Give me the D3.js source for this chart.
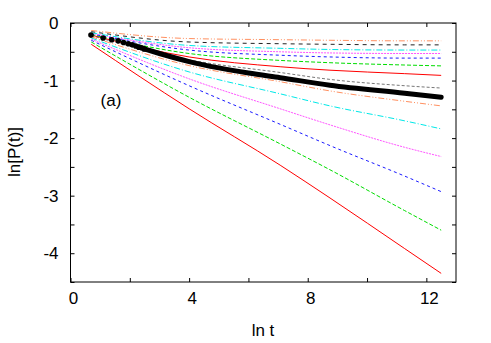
<!DOCTYPE html>
<html><head><meta charset="utf-8">
<script src="https://cdn.jsdelivr.net/npm/d3@7"></script>
<style>
html,body{margin:0;padding:0;background:#fff;}
svg text{font-family:"Liberation Sans",Arial,sans-serif;fill:#000;}
</style>
</head><body>
<svg id="chart" width="491" height="343"></svg>
<script>
// ---- data ----
const xTickValues = [0, 2, 4, 6, 8, 10, 12];
const xTickLabels = ["0", "", "4", "", "8", "", "12"];
const yTickValues = [0, -0.5, -1, -1.5, -2, -2.5, -3, -3.5, -4, -4.5];
const yTickLabels = ["0", "", "-1", "", "-2", "", "-3", "", "-4", ""];

const lnT = [0.7, 4, 7.07, 8.75, 11.27, 12.5];
const orangeUpper  = [-0.13, -0.27, -0.29, -0.30, -0.31, -0.31];
const blackUpper   = [-0.15, -0.33, -0.36, -0.37, -0.38, -0.38];
const cyanUpper    = [-0.17, -0.39, -0.44, -0.46, -0.47, -0.47];
const magentaUpper = [-0.18, -0.43, -0.50, -0.52, -0.53, -0.53];
const blueUpper    = [-0.19, -0.47, -0.56, -0.59, -0.61, -0.61];
const greenUpper   = [-0.20, -0.53, -0.65, -0.69, -0.73, -0.745];
const redUpper     = [-0.21, -0.59, -0.76, -0.82, -0.88, -0.91];
const greyLower    = [-0.22, -0.64, -0.86, -0.98, -1.09, -1.13];
const orangeLower  = [-0.24, -0.74, -1.02, -1.18, -1.36, -1.44];
const cyanLower    = [-0.26, -0.85, -1.23, -1.44, -1.70, -1.84];
const magentaLower = [-0.28, -0.97, -1.49, -1.77, -2.16, -2.32];
const blueLower    = [-0.30, -1.09, -1.76, -2.13, -2.66, -2.93];
const greenLower   = [-0.33, -1.29, -2.10, -2.55, -3.26, -3.60];
const redLower     = [-0.37, -1.49, -2.47, -3.04, -3.92, -4.35];

const blackDotLnT = [0.69, 1.10, 1.39, 1.61, 1.79, 1.95, 2.08, 2.20, 2.30, 2.40, 2.48];
const blackDotVal = [-0.21, -0.26, -0.29, -0.31, -0.34, -0.36, -0.38, -0.40, -0.42, -0.43, -0.45];
const blackLineLnT = [2.48, 3, 4, 5, 6, 7.07, 8.75, 11.27, 12.5];
const blackLineVal = [-0.45, -0.53, -0.67, -0.78, -0.87, -0.95, -1.08, -1.22, -1.29];

const series = [
  {v: redLower,     c: "#ff0000", d: null},
  {v: greenLower,   c: "#00dd00", d: "4,2"},
  {v: blueLower,    c: "#1a1aff", d: "3,3"},
  {v: magentaLower, c: "#ff55ff", d: "2,1"},
  {v: cyanLower,    c: "#00e8e8", d: "6,2,1,2"},
  {v: orangeLower,  c: "#ff9060", d: "6,2,1,2,1,2"},
  {v: greyLower,    c: "#777777", d: "3,2"},
  {v: redUpper,     c: "#ff0000", d: null},
  {v: greenUpper,   c: "#00dd00", d: "4,2"},
  {v: blueUpper,    c: "#1a1aff", d: "3,3"},
  {v: magentaUpper, c: "#ff55ff", d: "2,1"},
  {v: cyanUpper,    c: "#00e8e8", d: "6,2,1,2"},
  {v: blackUpper,   c: "#222222", d: "4,4"},
  {v: orangeUpper,  c: "#ff9060", d: "6,2,1,2,1,2"}
];

// ---- layout ----
const L = 70.5, R = 456, T = 23, B = 282;
const svg = d3.select("#chart");
const x = d3.scaleLinear().domain([0, 13]).range([L, R]);
const y = d3.scaleLinear().domain([-4.5, 0]).range([B, T]);

// lines
const line = d3.line().x(d => x(d[0])).y(d => y(d[1])).curve(d3.curveMonotoneX);
const g = svg.append("g");
series.forEach(s => {
  g.append("path")
    .attr("d", line(lnT.map((t, i) => [t, s.v[i]])))
    .attr("fill", "none")
    .attr("stroke", s.c)
    .attr("stroke-width", 1)
    .attr("stroke-dasharray", s.d);
});

// thick black data
g.append("path")
  .attr("d", line(blackLineLnT.map((t, i) => [t, blackLineVal[i]])))
  .attr("fill", "none").attr("stroke", "#000").attr("stroke-width", 5)
  .attr("stroke-linecap", "round");
g.selectAll("circle.dot").data(blackDotLnT.map((t, i) => [t, blackDotVal[i]]))
  .enter().append("circle")
  .attr("cx", d => x(d[0])).attr("cy", d => y(d[1])).attr("r", 2.8).attr("fill", "#000");

// axes with inward ticks (mirrored)
const tickLen = 4;
const xb = svg.append("g").attr("transform", `translate(0,${B})`)
  .call(d3.axisBottom(x).tickValues(xTickValues).tickSize(-tickLen).tickPadding(10)
        .tickFormat((d, i) => xTickLabels[i]));
const xt = svg.append("g").attr("transform", `translate(0,${T})`)
  .call(d3.axisTop(x).tickValues(xTickValues).tickSize(-tickLen).tickFormat(""));
const yl = svg.append("g").attr("transform", `translate(${L},0)`)
  .call(d3.axisLeft(y).tickValues(yTickValues).tickSize(-tickLen).tickPadding(12)
        .tickFormat((d, i) => yTickLabels[i]));
const yr = svg.append("g").attr("transform", `translate(${R},0)`)
  .call(d3.axisRight(y).tickValues(yTickValues).tickSize(-tickLen).tickFormat(""));
[xb, xt, yl, yr].forEach(a => {
  a.select(".domain").remove();
  a.selectAll("line").attr("stroke", "#000");
  a.selectAll("text").style("font-size", "17px").attr("fill", "#000");
});
xb.selectAll("text").attr("dy", "0.71em").attr("dx", 2.5);

// frame
svg.append("rect").attr("x", L).attr("y", T).attr("width", R - L).attr("height", B - T)
  .attr("fill", "none").attr("stroke", "#000").attr("stroke-width", 1);

// labels
svg.append("text").attr("x", 263).attr("y", 336).attr("text-anchor", "middle")
  .style("font-size", "17px").text("ln t");
svg.append("text").attr("transform", "translate(20,152) rotate(-90)").attr("text-anchor", "middle")
  .style("font-size", "17px").text("ln[P(t)]");
svg.append("text").attr("x", 111).attr("y", 106).attr("text-anchor", "middle")
  .style("font-size", "17px").text("(a)");
</script>
</body></html>
